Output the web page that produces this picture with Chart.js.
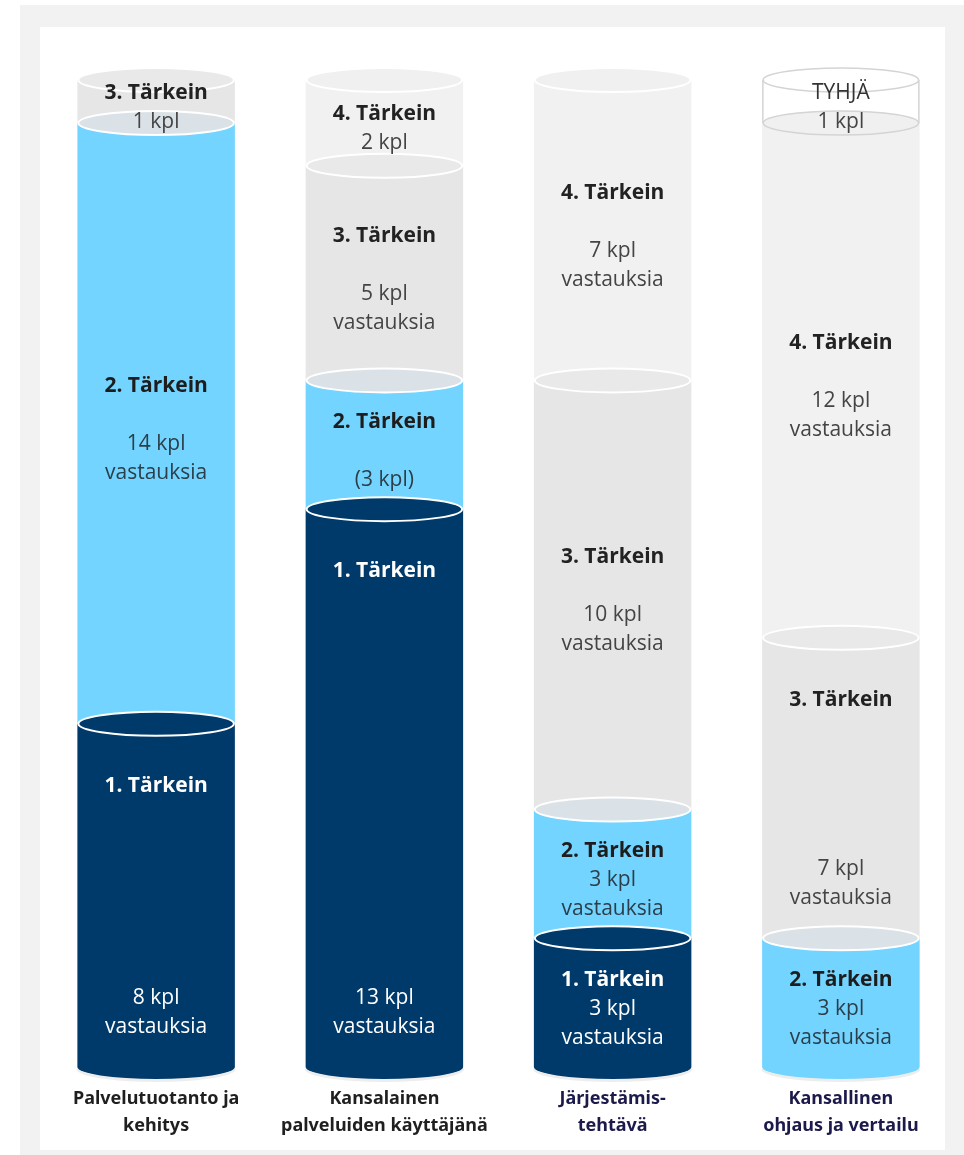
<!DOCTYPE html>
<html>
<head>
<meta charset="utf-8">
<script src="https://cdn.jsdelivr.net/npm/chart.js@4.4.0/dist/chart.umd.min.js"></script>
<style>
html, body { margin:0; padding:0; background:#fff; width:964px; height:1155px; overflow:hidden; }
#frame { position:absolute; left:20px; top:5px; width:944px; height:1150px; background:#f2f2f2; }
#panel { position:absolute; left:40px; top:27px; width:905px; height:1123px; background:#fff; }
#chart { position:absolute; left:0; top:0; }
</style>
</head>
<body>
<div id="frame"></div>
<div id="panel"></div>
<canvas id="chart" width="964" height="1155"></canvas>
<script>
'use strict';
// data
const categories = [['Palvelutuotanto ja', 'kehitys'], ['Kansalainen', 'palveluiden käyttäjänä'], ['Järjestämis-', 'tehtävä'], ['Kansallinen', 'ohjaus ja vertailu']];
const seriesNames = ['1. Tärkein', '2. Tärkein', '3. Tärkein', '4. Tärkein', 'TYHJÄ'];
const tarkein1 = [8, 13, 3, 0];
const tarkein2 = [14, 3, 3, 3];
const tarkein3 = [1, 5, 10, 7];
const tarkein4 = [0, 2, 7, 12];
const tyhja = [0, 0, 0, 1];
const seriesData = [tarkein1, tarkein2, tarkein3, tarkein4, tyhja];

// how the text sits in each segment (split / gap / tight / short / paren)
const labelLayout = [
  ['split', 'split', 'tight', ''],
  ['gap', 'paren', 'tight', 'tight'],
  ['short', 'gap', 'gap', 'split'],
  ['', 'short', 'gap', 'gap'],
  ['', '', '', 'short']
];

// styles
const seriesColors = ['#003a6b', '#72d4ff', '#e6e6e6', '#f1f1f1', '#ffffff'];
const capColors = ['#003a6b', '#72d4ff', '#e9e9e9', '#f0f0f0', '#ffffff'];
const blendCap = '#dae2e8';
const titleColors = ['#ffffff', '#1d1d1d', '#222222', '#222222', '#333333'];
const countColors = ['#ffffff', '#2c3e4a', '#444444', '#444444', '#444444'];
const categoryColors = ['#1f1f1f', '#1f1f1f', '#1c1a4a', '#1c1a4a'];
const ry = 12;
const lineH = 29;

function segLines(i, j) {
  const v = seriesData[i][j];
  const kind = labelLayout[i][j];
  const title = seriesNames[i];
  if (kind === 'short') return { kind: 'tight', lines: [title, v + ' kpl'] };
  if (kind === 'paren') return { kind: 'gap', lines: [title, '', '(' + v + ' kpl)'] };
  if (kind === 'gap') return { kind: 'gap', lines: [title, '', v + ' kpl', 'vastauksia'] };
  if (kind === 'split') return { kind: 'split', lines: [title, v + ' kpl', 'vastauksia'] };
  return { kind: 'tight', lines: [title, v + ' kpl', 'vastauksia'] };
}

const cylinderPlugin = {
  id: 'cylinders',
  afterDatasetsDraw(chart) {
    const ctx = chart.ctx;
    ctx.save();
    for (let j = 0; j < categories.length; j++) {
      const segs = [];
      chart.data.datasets.forEach((ds, i) => {
        if (ds.data[j] > 0) segs.push({ i: i, el: chart.getDatasetMeta(i).data[j] });
      });
      if (!segs.length) continue;
      const b = segs[0].el;
      const rx = b.width / 2;
      // base of the cylinder
      ctx.fillStyle = 'rgba(0,0,0,0.07)';
      ctx.beginPath(); ctx.ellipse(b.x, b.base + 2, rx + 1, ry + 1, 0, 0, Math.PI); ctx.fill();
      ctx.fillStyle = seriesColors[segs[0].i];
      ctx.beginPath(); ctx.ellipse(b.x, b.base, rx, ry, 0, 0, Math.PI); ctx.fill();

      segs.forEach((s, k) => {
        const above = segs[k + 1];
        const el = s.el;
        if (s.i === 4) {
          ctx.strokeStyle = '#d4d4d4'; ctx.lineWidth = 1.5;
          ctx.beginPath();
          ctx.moveTo(el.x - rx + 0.75, el.y); ctx.lineTo(el.x - rx + 0.75, el.base);
          ctx.moveTo(el.x + rx - 0.75, el.y); ctx.lineTo(el.x + rx - 0.75, el.base);
          ctx.stroke();
        }
        let fill = capColors[s.i];
        if (s.i === 1 && above && above.i >= 2) fill = blendCap;
        ctx.beginPath(); ctx.ellipse(el.x, el.y, rx - 1, ry, 0, 0, 2 * Math.PI);
        ctx.fillStyle = fill; ctx.fill();
        if (s.i === 4 || (above && above.i === 4)) { ctx.strokeStyle = '#d4d4d4'; ctx.lineWidth = 1.5; }
        else { ctx.strokeStyle = '#ffffff'; ctx.lineWidth = 2; }
        ctx.stroke();
      });
    }

    // segment texts
    ctx.textAlign = 'center';
    ctx.textBaseline = 'middle';
    chart.data.datasets.forEach((ds, i) => {
      const meta = chart.getDatasetMeta(i);
      ds.data.forEach((v, j) => {
        if (!(v > 0)) return;
        const el = meta.data[j];
        const info = segLines(i, j);
        let ys = [];
        if (info.kind === 'split') {
          ys = [el.y + 62, el.base - 40 - lineH, el.base - 40];
        } else {
          const mid = (el.y + el.base) / 2 + 6;
          const start = mid - (info.lines.length - 1) * lineH / 2;
          ys = info.lines.map((l, k) => start + k * lineH);
        }
        info.lines.forEach((line, k) => {
          if (!line) return;
          if (k === 0) {
            ctx.font = (i === 4 ? '' : 'bold ') + '21px "Open Sans"';
            ctx.fillStyle = titleColors[i];
          } else {
            ctx.font = '21px "Open Sans"';
            ctx.fillStyle = countColors[i];
          }
          ctx.fillText(line, el.x, ys[k]);
        });
      });
    });
    ctx.restore();
  }
};

const context = document.getElementById('chart').getContext('2d');
const chart = new Chart(context, {
  type: 'bar',
  data: {
    labels: categories,
    datasets: seriesNames.map((name, i) => ({
      label: name,
      data: seriesData[i],
      backgroundColor: seriesColors[i],
      borderWidth: 0,
      barPercentage: 0.69,
      categoryPercentage: 1
    }))
  },
  options: {
    responsive: false,
    animation: false,
    devicePixelRatio: 1,
    layout: { padding: { left: 42, right: 9, top: 80, bottom: -2 } },
    plugins: { legend: { display: false }, tooltip: { enabled: false } },
    scales: {
      x: {
        stacked: true,
        grid: { display: false, drawTicks: false },
        border: { display: false },
        ticks: {
          padding: 18,
          autoSkip: false,
          maxRotation: 0,
          font: { family: 'Noto Sans', size: 18, weight: 'bold', lineHeight: 1.5 },
          color: (c) => categoryColors[c.index]
        }
      },
      y: { stacked: true, display: false, min: 0, max: 23 }
    }
  },
  plugins: [cylinderPlugin]
});
</script>
</body>
</html>
